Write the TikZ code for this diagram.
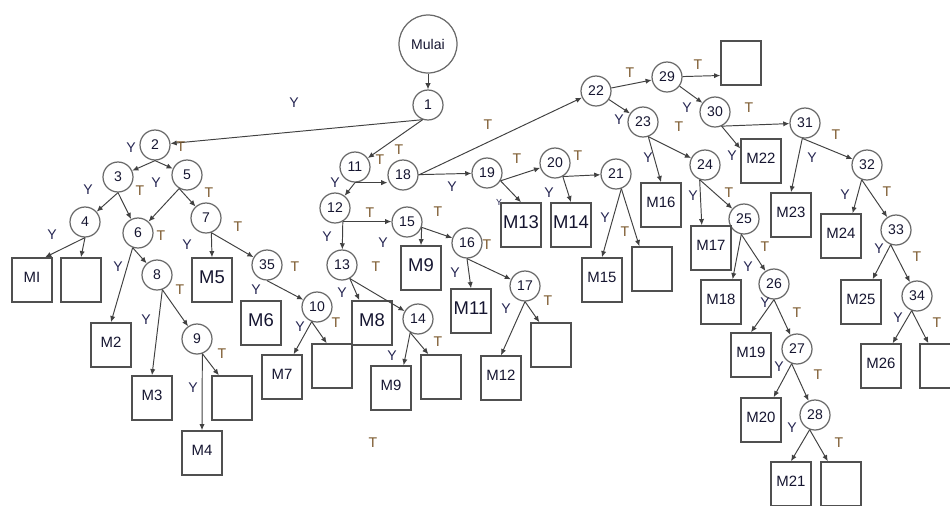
\documentclass[tikz,border=0pt]{standalone}
\usepackage{fontspec}
\setmainfont{Liberation Sans}
\usepackage{tikz}
\usetikzlibrary{arrows.meta}
\definecolor{linegray}{RGB}{65,65,65}
\definecolor{circgray}{RGB}{105,105,105}
\definecolor{boxgray}{RGB}{80,80,80}
\definecolor{ycol}{RGB}{35,35,80}
\definecolor{tcol}{RGB}{120,85,40}
\tikzstyle{qstate}=[circle,draw=circgray,line width=0.7pt,minimum size=0.6cm,inner sep=0pt,text=ycol!60!black,font=\fontsize{8}{9}\selectfont]
\tikzstyle{resbox}=[rectangle,draw=boxgray,line width=0.9pt,minimum width=0.8cm,minimum height=0.88cm,inner sep=0pt,text depth=0.1cm,text=ycol!60!black,font=\fontsize{8.5}{10}\selectfont]
\tikzstyle{bigres}=[resbox,font=\fontsize{10.5}{12}\selectfont]
\tikzstyle{ylbl}=[text=ycol,inner sep=0pt,font=\fontsize{8}{9}\selectfont]
\tikzstyle{tlbl}=[text=tcol,inner sep=0pt,font=\fontsize{8}{9}\selectfont]
\tikzstyle{arr}=[-{Latex[length=3.5pt,width=3pt]},draw=linegray,line width=0.55pt]
\newcommand{\qnode}{\node[qstate]}
\newcommand{\resnode}{\node[resbox]}
\newcommand{\bigresnode}{\node[bigres]}
\newcommand{\lblY}[2]{\node[ylbl] (#1) at (#2) {Y};}
\newcommand{\lblT}[2]{\node[tlbl] (#1) at (#2) {T};}

\begin{document}
\begin{tikzpicture}[x=0.02cm,y=-0.02cm]
      \clip (0,0) rectangle (950,505);
      % decision nodes
      \qnode[minimum size=1.16cm] (mulai) at (428,44) {Mulai};
      \qnode (n1) at (428,105) {1};
      \qnode (n2) at (155,145) {2};
      \qnode (n3) at (118,177) {3};
      \qnode (n5) at (187,175) {5};
      \qnode (n4) at (85,222) {4};
      \qnode (n6) at (138,233) {6};
      \qnode (n7) at (206,218) {7};
      \qnode (n8) at (157,275) {8};
      \qnode (n35) at (267,265) {35};
      \qnode (n9) at (197,339) {9};
      \qnode (n10) at (317,307) {10};
      \qnode (n11) at (355,167) {11};
      \qnode (n12) at (335,208) {12};
      \qnode (n13) at (342,265) {13};
      \qnode (n14) at (418,319) {14};
      \qnode (n15) at (407,222) {15};
      \qnode (n16) at (467,243) {16};
      \qnode (n17) at (525,286) {17};
      \qnode (n18) at (403,175) {18};
      \qnode (n19) at (487,173) {19};
      \qnode (n20) at (555,163) {20};
      \qnode (n21) at (616,174) {21};
      \qnode (n22) at (596,91) {22};
      \qnode (n23) at (643,122) {23};
      \qnode (n24) at (705,165) {24};
      \qnode (n25) at (744,219) {25};
      \qnode (n26) at (774,284) {26};
      \qnode (n27) at (797,349) {27};
      \qnode (n28) at (815,415) {28};
      \qnode (n29) at (667,77) {29};
      \qnode (n30) at (715,112) {30};
      \qnode (n31) at (805,123) {31};
      \qnode (n32) at (867,165) {32};
      \qnode (n33) at (896,230) {33};
      \qnode (n34) at (917,296) {34};
      % result boxes
      \resnode (m1) at (32,280) {MI};
      \resnode (e4) at (81,280) {};
      \bigresnode (m5) at (212,280) {M5};
      \resnode (m2) at (111,345) {M2};
      \resnode (m3) at (152,398) {M3};
      \resnode (e9) at (232,398) {};
      \resnode (m4) at (202,453) {M4};
      \bigresnode (m6) at (261,323) {M6};
      \resnode (m7) at (282,377) {M7};
      \resnode (e10) at (332,366) {};
      \bigresnode (m8) at (372,323) {M8};
      \resnode (m9b) at (391,388) {M9};
      \resnode (e14) at (441,377) {};
      \bigresnode (m9a) at (421,268) {M9};
      \bigresnode (m11) at (471,311) {M11};
      \resnode (m12) at (501,378) {M12};
      \resnode (e17) at (551,345) {};
      \bigresnode (m13) at (521,225) {M13};
      \bigresnode (m14) at (571,225) {M14};
      \resnode (m15) at (602,280) {M15};
      \resnode (e21) at (652,269) {};
      \resnode (m16) at (661,205) {M16};
      \resnode (m17) at (711,248) {M17};
      \resnode (m18) at (721,302) {M18};
      \resnode (m19) at (751,355) {M19};
      \resnode (m20) at (761,420) {M20};
      \resnode (m21) at (791,484) {M21};
      \resnode (e28) at (841,484) {};
      \resnode (e29) at (741,63) {};
      \resnode (m22) at (761,161) {M22};
      \resnode (m23) at (791,215) {M23};
      \resnode (m24) at (841,236) {M24};
      \resnode (m25) at (861,302) {M25};
      \resnode (m26) at (881,366) {M26};
      \resnode (e34) at (940,366) {};
      % connectors
      \draw[arr] (mulai) -- (n1);
      \draw[arr] (n1.250) -- (n2);
      \draw[arr] (n1.250) -- (n11);
      \draw[arr] (n2.south) -- (n3);
      \draw[arr] (n2.south) -- (n5);
      \draw[arr] (n3.south) -- (n4);
      \draw[arr] (n3.south) -- (n6);
      \draw[arr] (n5.240) -- (n6);
      \draw[arr] (n5.240) -- (n7);
      \draw[arr] (n4.south) -- (m1.60);
      \draw[arr] (n4.south) -- (e4.north);
      \draw[arr] (n6.250) -- (m2.north);
      \draw[arr] (n6.250) -- (n8);
      \draw[arr] (n7.-70) -- (m5.north);
      \draw[arr] (n7.-70) -- (n35);
      \draw[arr] (n8.-70) -- (m3.north);
      \draw[arr] (n8.-70) -- (n9);
      \draw[arr] (n9.-70) -- (m4.north);
      \draw[arr] (n9.-70) -- (e9.120);
      \draw[arr] (n35.south) -- (n10);
      \draw[arr] (n10.250) -- (m7.63);
      \draw[arr] (n10.250) -- (e10.103);
      \draw[arr] (n11.south) -- (n12);
      \draw[arr] (n11.south) -- (n11.south -| n18.west);
      \draw[arr] (n12.-60) -- (n13);
      \draw[arr] (n12.-60) -- (n12.-60 -| n15.west);
      \draw[arr] (n13.-60) -- (m8.119);
      \draw[arr] (n13.-60) -- (n14);
      \draw[arr] (n14.240) -- (m9b.61);
      \draw[arr] (n14.240) -- (e14.119);
      \draw[arr] (n15.-20) -- (m9a.north);
      \draw[arr] (n15.-20) -- (n16);
      \draw[arr] (n16.south) -- (m11.north);
      \draw[arr] (n16.south) -- (n17);
      \draw[arr] (n17.south) -- (m12.north);
      \draw[arr] (n17.south) -- (e17.117);
      \draw[arr] (n18) -- (n19);
      \draw[arr] (n18.east) -- (n22);
      \draw[arr] (n19.-30) -- (m13.north);
      \draw[arr] (n19.-30) -- (n20);
      \draw[arr] (n20.-60) -- (m14.north);
      \draw[arr] (n20.-60) -- (n21);
      \draw[arr] (n21.-70) -- (m15.north);
      \draw[arr] (n21.-70) -- (e21.119);
      \draw[arr] (n22) -- (n23);
      \draw[arr] (n22) -- (n29);
      \draw[arr] (n29) -- (n30);
      \draw[arr] (n29) -- (e29.211);
      \draw[arr] (n23.-70) -- (m16.north);
      \draw[arr] (n23.-70) -- (n24);
      \draw[arr] (n24.250) -- (m17.112);
      \draw[arr] (n24.250) -- (n25);
      \draw[arr] (n25.260) -- (m18.63);
      \draw[arr] (n25.260) -- (n26);
      \draw[arr] (n26.south) -- (m19.north);
      \draw[arr] (n26.south) -- (n27);
      \draw[arr] (n27.250) -- (m20.61);
      \draw[arr] (n27.250) -- (n28);
      \draw[arr] (n28.250) -- (m21.north);
      \draw[arr] (n28.250) -- (e28.120);
      \draw[arr] (n30.-65) -- (m22.149);
      \draw[arr] (n30.-65) -- (n31);
      \draw[arr] (n31.260) -- (m23.north);
      \draw[arr] (n31.260) -- (n32);
      \draw[arr] (n32.250) -- (m24.63);
      \draw[arr] (n32.250) -- (n33);
      \draw[arr] (n33.250) -- (m25.63);
      \draw[arr] (n33.250) -- (n34);
      \draw[arr] (n34.250) -- (m26.63);
      \draw[arr] (n34.250) -- (e34.117);
      % branch labels
      \lblY{y1}{294,103} \lblT{t1}{399,150}
      \lblY{y2}{131,148} \lblT{t2}{181,147}
      \lblY{y3}{88,190} \lblT{t3}{140,191}
      \lblY{y5}{156,183} \lblT{t5}{209,193}
      \lblY{y4}{52,235}
      \lblY{y6}{118,267} \lblT{t6}{161,236}
      \lblY{y7}{187,245} \lblT{t7}{238,227}
      \lblY{y8}{146,320} \lblT{t8}{180,290}
      \lblY{y9}{193,388} \lblT{t9}{222,354}
      \lblY{y35}{256,290} \lblT{t35}{295,267}
      \lblY{y10}{300,327} \lblT{t10}{336,323}
      \lblY{y11}{335,183} \lblT{t11}{380,160}
      \lblY{y12}{327,237} \lblT{t12}{370,213}
      \lblY{y13}{342,293} \lblT{t13}{376,267}
      \lblY{y14}{392,356} \lblT{t14}{438,342}
      \lblY{y15}{383,243} \lblT{t15}{438,212}
      \lblY{y16}{455,273} \lblT{t16}{487,245}
      \lblY{y17}{506,309} \lblT{t17}{548,301}
      \lblY{y18}{452,187} \lblT{t18}{488,125}
      \node[ylbl,font=\fontsize{5}{6}\selectfont] (y19) at (499,202) {Y}; \lblT{t19}{517,159}
      \lblY{y20}{549,193} \lblT{t20}{578,156}
      \lblY{y21}{605,218} \lblT{t21}{625,232}
      \lblY{y22}{619,120} \lblT{t22}{630,73}
      \lblY{y29}{687,108} \lblT{t29}{698,65}
      \lblY{y23}{648,158} \lblT{t23}{679,127}
      \lblY{y24}{693,196} \lblT{t24}{729,193}
      \lblY{y25}{748,267} \lblT{t25}{765,247}
      \lblY{y26}{765,303} \lblT{t26}{797,313}
      \lblY{y27}{779,367} \lblT{t27}{818,375}
      \lblY{y28}{792,428} \lblT{t28}{839,443}
      \lblY{y30}{732,156} \lblT{t30}{749,108}
      \lblY{y31}{812,158} \lblT{t31}{836,135}
      \lblY{y32}{845,195} \lblT{t32}{887,192}
      \lblY{y33}{879,249} \lblT{t33}{917,257}
      \lblY{y34}{898,318} \lblT{t34}{937,323}
      \lblT{tx}{373,443} % stray
\end{tikzpicture}
\end{document}
